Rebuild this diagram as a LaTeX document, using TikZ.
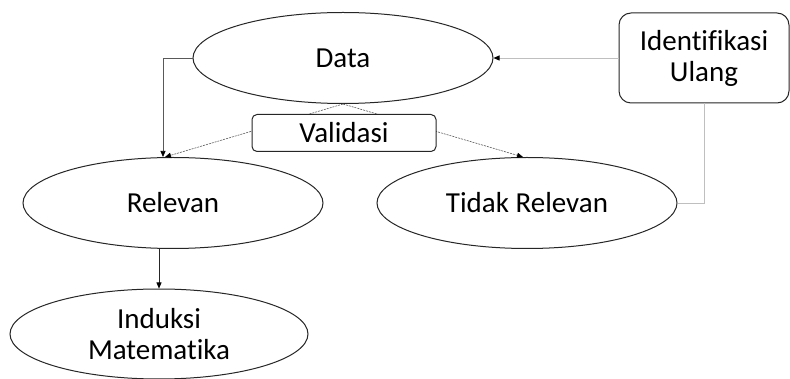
\documentclass[tikz,border=0pt]{standalone}
\usepackage{fontspec}
\setmainfont{Carlito}[Ligatures=NoCommon]
\usetikzlibrary{shapes.geometric,arrows.meta}
\definecolor{edge}{HTML}{262626}
\definecolor{lgray}{HTML}{BFBFBF}
\definecolor{dgray}{HTML}{595959}
\begin{document}
\begin{tikzpicture}[x=1pt,y=-1pt,
  ell/.style={ellipse,draw=edge,line width=1pt,fill=white,inner sep=0pt,
    minimum width=300pt,minimum height=91pt,align=center,
    font=\fontsize{29}{31}\selectfont},
  rbox/.style={rectangle,rounded corners=#1,draw=edge,line width=1pt,fill=white,inner sep=0pt,
    align=center,font=\fontsize{29}{31}\selectfont},
  tip/.style={-{Triangle[length=6pt,width=5pt,color=black]}}]
\useasboundingbox (0,0) rectangle (790,379);
\node[ell] (D) at (343,58) {Data};
\node[ell] (R) at (173,203) {Relevan};
\node[ell] (T) at (527,203) {Tidak Relevan};
\node[ell,minimum width=298pt,minimum height=90pt] (M) at (159,334) {Induksi\\Matematika};
\node[rbox=12pt,minimum width=170pt,minimum height=90pt] (I) at (704,58) {Identifikasi\\Ulang};
% connectors
\draw[lgray,line width=0.8pt,tip] (I.west) -- (D.east);
\draw[lgray,line width=0.8pt] (T.east) -| (I.south);
\draw[dgray,line width=0.7pt,tip] (D.west) -| ([xshift=-10pt]R.north);
\draw[dgray,line width=0.6pt,dashed,dash pattern=on 2pt off 1pt,tip] (D.south) -- ([xshift=-8pt]R.north);
\draw[dgray,line width=0.6pt,dashed,dash pattern=on 2pt off 1pt,tip] (D.south) -- ([xshift=-4pt]T.north);
\draw[edge,line width=0.7pt,tip] (M.north |- R.south) -- (M.north);
\node[rbox=5pt,minimum width=184pt,minimum height=37pt] (V) at (344,133) {Validasi};
\end{tikzpicture}
\end{document}
